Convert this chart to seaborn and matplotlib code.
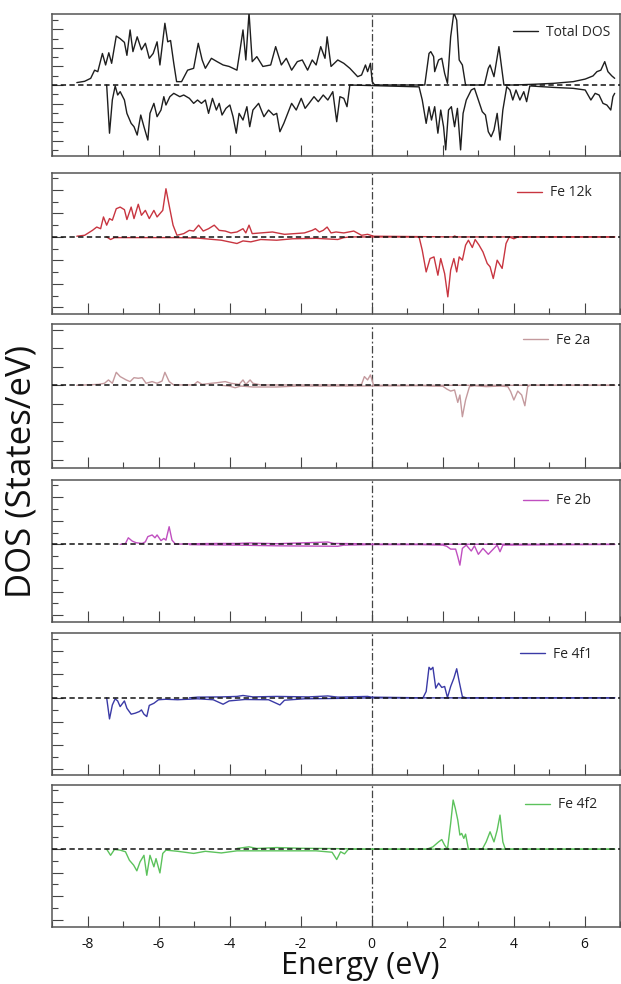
import numpy as np
import pandas as pd
import matplotlib
matplotlib.use("Agg")
import matplotlib.pyplot as plt
import seaborn as sns
from matplotlib.ticker import MultipleLocator, NullLocator

sns.set_style("ticks")
plt.rcParams['font.family'] = ['Open Sans', 'DejaVu Sans']

# ---------------- data ----------------
# Total DOS
tot_up_e = [-8.30, -8.08, -7.91, -7.80, -7.71, -7.58, -7.49, -7.40, -7.32, -7.19, -7.08, -6.96, -6.89, -6.80,
            -6.72, -6.60, -6.48, -6.37, -6.26, -6.15, -6.04, -5.96, -5.82, -5.74, -5.66, -5.57, -5.49, -5.35,
            -5.18, -5.01, -4.88, -4.77, -4.68, -4.51, -4.35, -4.18, -4.01, -3.90, -3.79, -3.71, -3.62, -3.54,
            -3.45, -3.36, -3.23, -3.06, -2.84, -2.70, -2.54, -2.40, -2.25, -2.09, -1.95, -1.80, -1.67, -1.56,
            -1.43, -1.31, -1.25, -1.14, -0.95, -0.78, -0.61, -0.39, -0.28, -0.17, -0.11, -0.03, 0.02, 0.09,
            1.50, 1.62, 1.67, 1.75, 1.78, 1.89, 1.98, 2.06, 2.14, 2.23, 2.32, 2.40, 2.47, 2.56, 2.65, 3.18,
            3.29, 3.34, 3.45, 3.59, 3.65, 3.73, 4.01, 4.57, 5.13, 5.68, 6.02, 6.24, 6.35, 6.46, 6.57, 6.66,
            6.77, 6.85]
tot_up_v = [0.13, 0.20, 0.36, 0.80, 0.72, 1.70, 1.08, 1.74, 1.17, 2.64, 2.50, 2.30, 1.60, 2.97,
            1.80, 2.60, 1.90, 2.25, 1.44, 1.70, 2.33, 1.08, 3.33, 2.33, 2.40, 1.17, 0.18, 0.18,
            0.80, 0.90, 2.25, 1.35, 0.90, 1.44, 1.26, 1.08, 1.00, 0.90, 0.80, 1.80, 2.97, 1.35,
            3.90, 1.26, 1.53, 1.00, 1.08, 2.07, 1.08, 1.44, 0.80, 1.26, 1.35, 0.80, 1.35, 1.08,
            2.07, 1.44, 2.60, 1.00, 1.35, 1.17, 0.90, 0.45, 0.54, 1.08, 0.72, 1.17, 0.18, 0.00,
            0.00, 1.70, 1.80, 1.53, 0.72, 1.35, 1.44, 0.63, 0.09, 2.60, 3.90, 3.50, 1.35, 1.08, 0.00, 0.00,
            0.90, 1.08, 0.45, 2.07, 1.17, 0.00, 0.00, 0.04, 0.09, 0.18, 0.32, 0.49, 0.72, 0.80, 1.26, 0.72,
            0.49, 0.36]
tot_dn_e = [-7.46, -7.38, -7.30, -7.22, -7.15, -7.08, -6.96, -6.89, -6.77, -6.69, -6.60, -6.50, -6.41, -6.30,
            -6.24, -6.13, -6.04, -5.93, -5.85, -5.79, -5.68, -5.57, -5.40, -5.29, -5.13, -5.01, -4.90, -4.79,
            -4.68, -4.59, -4.48, -4.37, -4.29, -4.21, -4.10, -3.99, -3.90, -3.81, -3.73, -3.62, -3.51, -3.43,
            -3.34, -3.18, -3.03, -2.90, -2.76, -2.67, -2.58, -2.47, -2.36, -2.25, -2.12, -1.98, -1.87, -1.76,
            -1.62, -1.50, -1.36, -1.23, -1.09, -0.98, -0.89, -0.78, -0.69, -0.61, 1.34, 1.43, 1.54, 1.62,
            1.69, 1.78, 1.87, 1.95, 2.03, 2.09, 2.17, 2.25, 2.34, 2.42, 2.51, 2.58, 2.67, 2.81, 2.90, 3.01,
            3.12, 3.21, 3.29, 3.37, 3.45, 3.54, 3.62, 3.70, 3.81, 3.90, 3.98, 4.07, 4.18, 4.29, 4.37, 4.46,
            5.13, 5.68, 6.02, 6.18, 6.30, 6.41, 6.52, 6.63, 6.74, 6.80, 6.85]
tot_dn_v = [0.00, -2.60, -0.80, -0.05, -0.54, -0.36, -0.81, -1.53, -2.07, -2.25, -2.70, -1.62, -2.25, -2.97,
            -1.53, -0.99, -1.71, -1.35, -0.63, -1.08, -0.63, -0.45, -0.63, -0.54, -0.72, -0.99, -0.81, -0.99,
            -0.81, -1.53, -0.72, -1.35, -0.99, -1.62, -1.26, -1.08, -1.71, -2.60, -1.53, -1.89, -1.17, -2.25,
            -1.35, -0.99, -1.71, -1.35, -1.62, -1.53, -2.52, -2.07, -1.53, -0.99, -1.35, -0.72, -1.26, -0.99,
            -0.63, -0.90, -0.54, -0.81, -0.36, -1.98, -0.63, -0.72, -1.17, 0.00, -0.10, -0.81, -2.07, -1.17,
            -1.89, -1.17, -2.60, -1.35, -2.25, -3.50, -1.35, -1.17, -2.25, -1.26, -3.50, -1.53, -0.81, -0.27, -0.18, -0.81,
            -1.44, -1.62, -2.52, -2.79, -2.43, -1.53, -2.97, -1.35, -0.09, -0.27, -0.81, -0.27, -0.81, -0.36, -0.90, -0.05,
            -0.13, -0.18, -0.27, -0.81, -0.45, -0.54, -0.99, -1.08, -1.35, -0.63, -0.45]

# Fe 12k
k12_up_e = [-8.30, -8.08, -7.86, -7.74, -7.63, -7.55, -7.46, -7.38, -7.30, -7.19, -7.08, -6.96, -6.89, -6.77,
            -6.69, -6.57, -6.48, -6.37, -6.26, -6.13, -6.04, -5.88, -5.79, -5.70, -5.59, -5.48, -5.29, -5.13,
            -5.01, -4.87, -4.74, -4.59, -4.43, -4.29, -4.12, -3.96, -3.79, -3.62, -3.54, -3.45, -3.36, -3.12,
            -2.79, -2.45, -2.17, -1.89, -1.67, -1.58, -1.47, -1.36, -1.25, -1.14, -1.00, -0.78, -0.50, -0.28,
            -0.11, 0.06, 2.30, 2.34, 2.40, 6.85]
k12_up_v = [0.03, 0.07, 0.28, 0.42, 0.35, 0.85, 0.50, 0.78, 0.71, 1.20, 1.27, 1.16, 0.74, 1.27,
            0.78, 1.39, 0.92, 1.13, 0.78, 1.13, 0.85, 1.13, 2.05, 1.34, 0.50, 0.07, 0.14, 0.28,
            0.25, 0.50, 0.25, 0.35, 0.50, 0.28, 0.25, 0.17, 0.21, 0.35, 0.17, 0.50, 0.14, 0.17,
            0.21, 0.11, 0.14, 0.17, 0.28, 0.35, 0.21, 0.28, 0.42, 0.17, 0.21, 0.17, 0.25, 0.07,
            0.11, 0.03, 0.00, 0.04, 0.00, 0.00]
k12_dn_e = [-7.46, -7.35, -7.24, -5.46, -4.90, -4.23, -3.79, -3.62, -3.40, -3.12, -2.67, -2.23, -1.56, -0.95,
            -0.78, -0.61, 1.34, 1.43, 1.54, 1.65, 1.76, 1.87, 1.95, 2.06, 2.15, 2.23, 2.32, 2.40, 2.47, 2.56,
            2.65, 2.73, 2.84, 2.92, 3.03, 3.14, 3.26, 3.34, 3.43, 3.54, 3.68, 3.79, 3.88, 4.01, 4.12, 6.85]
k12_dn_v = [0.00, -0.11, -0.03, -0.03, -0.05, -0.14, -0.28, -0.17, -0.21, -0.11, -0.14, -0.08, -0.06, -0.11,
            -0.03, 0.00, 0.00, -0.57, -1.49, -0.92, -0.85, -1.63, -0.92, -1.56, -2.55, -1.41, -0.92, -1.49, -0.85, -0.99,
            -0.35, -0.14, -0.45, -0.11, -0.35, -0.64, -1.13, -1.27, -1.77, -0.99, -1.34, -0.28, 0.00, -0.08, 0.00, 0.00]

# Fe 2a
a2_up_e = [-8.30, -7.69, -7.52, -7.41, -7.30, -7.19, -7.08, -6.91, -6.80, -6.69, -6.57, -6.46, -6.35, -6.18,
           -6.04, -5.90, -5.82, -5.70, -5.57, -5.01, -4.90, -4.77, -4.51, -4.35, -4.12, -3.96, -3.73, -3.62,
           -3.54, -3.42, -3.34, -3.12, -0.45, -0.28, -0.20, -0.11, -0.03, 0.06, 6.85]
a2_up_v = [0.00, 0.05, 0.11, 0.29, 0.11, 0.70, 0.47, 0.29, 0.20, 0.41, 0.38, 0.41, 0.11, 0.20,
           0.11, 0.23, 0.70, 0.20, 0.02, 0.02, 0.20, 0.05, 0.11, 0.14, 0.20, 0.11, 0.05, 0.29,
           0.05, 0.29, 0.11, 0.02, 0.02, 0.05, 0.47, 0.29, 0.56, 0.00, 0.00]
a2_dn_e = [-4.23, -4.01, -3.84, -3.68, -3.34, -2.67, -2.12, -0.67, 1.45, 1.67, 2.01, 2.12, 2.23, 2.34,
           2.43, 2.49, 2.56, 2.65, 2.76, 2.90, 3.23, 3.62, 3.84, 3.92, 4.01, 4.12, 4.23, 4.32, 4.40, 4.46, 6.85]
a2_dn_v = [0.00, -0.04, -0.13, -0.04, -0.09, -0.09, -0.04, -0.04, -0.02, -0.04, -0.05, -0.20, -0.31, -0.25,
           -0.92, -0.52, -1.69, -0.79, -0.07, -0.02, -0.07, -0.04, -0.07, -0.34, -0.79, -0.31, -0.52, -1.10, -0.07, 0.00, 0.00]

# Fe 2b
b2_up_e = [-7.08, -6.93, -6.85, -6.74, -6.63, -6.46, -6.37, -6.30, -6.18, -6.10, -6.04, -5.93, -5.85, -5.79,
           -5.70, -5.62, -5.52, -4.90, -4.35, -3.79, -3.45, -2.67, -1.23, -1.06, -0.45, 0.00, 6.85]
b2_up_v = [0.00, 0.04, 0.28, 0.14, 0.07, 0.04, 0.11, 0.33, 0.40, 0.28, 0.40, 0.16, 0.25, 0.18,
           0.75, 0.18, 0.01, 0.03, 0.04, 0.04, 0.06, 0.03, 0.10, 0.04, 0.03, 0.01, 0.00]
b2_dn_e = [-5.13, -3.79, -2.67, -0.95, -0.78, 0.00, 1.39, 2.01, 2.12, 2.23, 2.37, 2.43, 2.49, 2.56,
           2.67, 2.81, 2.90, 3.01, 3.14, 3.29, 3.43, 3.54, 3.62, 3.70, 6.85]
b2_dn_v = [-0.01, -0.03, -0.06, -0.08, -0.03, -0.01, -0.01, -0.03, -0.08, -0.20, -0.20, -0.52, -0.88, -0.17,
           -0.03, -0.28, -0.06, -0.42, -0.17, -0.42, -0.20, -0.03, -0.31, -0.03, 0.00]

# Fe 4f1
f1_up_e = [-5.13, -4.90, -4.23, -3.79, -3.62, -3.34, -2.67, -1.78, -1.23, -0.95, -0.11, 0.00, 1.45, 1.54,
           1.62, 1.67, 1.73, 1.81, 1.89, 1.98, 2.06, 2.14, 2.23, 2.32, 2.40, 2.47, 2.56, 2.67, 6.85]
f1_up_v = [0.00, 0.03, 0.04, 0.06, 0.10, 0.04, 0.06, 0.04, 0.08, 0.03, 0.06, 0.03, 0.00, 0.27,
           1.29, 1.19, 1.29, 0.41, 0.62, 0.44, 0.48, 0.01, 0.48, 0.83, 1.23, 0.69, 0.05, 0.00, 0.00]
f1_dn_e = [-7.46, -7.38, -7.30, -7.22, -7.15, -7.08, -6.96, -6.89, -6.77, -6.66, -6.54, -6.48, -6.41, -6.33,
           -6.26, -6.13, -6.00, -5.79, -5.46, -4.90, -4.46, -4.18, -4.01, -3.57, -2.90, -2.58, -2.45, -1.89,
           -1.23, 0.00, 6.85]
f1_dn_v = [0.00, -0.89, -0.30, -0.04, -0.13, -0.37, -0.13, -0.44, -0.69, -0.65, -0.58, -0.51, -0.69, -0.79,
           -0.32, -0.23, -0.08, -0.06, -0.08, -0.04, -0.08, -0.27, -0.13, -0.07, -0.08, -0.30, -0.10, -0.04,
           -0.03, 0.00, 0.00]

# Fe 4f2
f2_up_e = [-3.79, -3.45, -3.23, -2.67, -2.01, -1.34, 0.00, 1.56, 1.73, 1.89, 1.98, 2.06, 2.14, 2.23,
           2.30, 2.36, 2.43, 2.49, 2.54, 2.60, 2.65, 2.73, 3.12, 3.23, 3.34, 3.45, 3.54, 3.62, 3.70, 3.77, 6.85]
f2_up_v = [0.03, 0.10, 0.03, 0.07, 0.04, 0.03, 0.00, 0.00, 0.10, 0.31, 0.41, 0.17, 0.00, 1.10,
           2.09, 1.74, 1.24, 0.60, 0.67, 0.46, 0.64, 0.00, 0.00, 0.31, 0.74, 0.31, 0.81, 1.45, 0.31, 0.00, 0.00]
f2_dn_e = [-7.46, -7.35, -7.24, -7.08, -6.93, -6.82, -6.70, -6.61, -6.52, -6.41, -6.33, -6.24, -6.13, -6.07,
           -5.96, -5.88, -5.79, -5.46, -5.01, -4.68, -4.23, -3.79, -2.67, -1.56, -1.11, -0.98, -0.87, -0.76,
           -0.65, 6.85]
f2_dn_v = [0.00, -0.26, -0.01, -0.04, -0.11, -0.47, -0.68, -0.92, -0.54, -0.26, -1.11, -0.26, -0.75, -0.40,
           -1.01, -0.18, -0.04, -0.09, -0.18, -0.09, -0.16, -0.07, -0.07, -0.07, -0.13, -0.44, -0.11, -0.20,
           0.00, 0.00]

labels = ["Total DOS", "Fe 12k", "Fe 2a", "Fe 2b", "Fe 4f1", "Fe 4f2"]
colors = ["#1e1e1e", "#c83540", "#c49a9e", "#c04fc0", "#3a3aa6", "#5cc25c"]
series = [(tot_up_e, tot_up_v, tot_dn_e, tot_dn_v),
          (k12_up_e, k12_up_v, k12_dn_e, k12_dn_v),
          (a2_up_e, a2_up_v, a2_dn_e, a2_dn_v),
          (b2_up_e, b2_up_v, b2_dn_e, b2_dn_v),
          (f1_up_e, f1_up_v, f1_dn_e, f1_dn_v),
          (f2_up_e, f2_up_v, f2_dn_e, f2_dn_v)]
energy_ticks = [-8, -6, -4, -2, 0, 2, 4, 6]

# ---------------- layout ----------------
W, H = 621, 984
fig = plt.figure(figsize=(W / 100, H / 100), dpi=100)
left_px, right_px = 52, 620
panels_px = [(14, 156), (173, 314), (324, 468), (480, 622), (633, 775), (785, 927)]
ylims = [(-3.83, 3.83), (-3.28, 2.72), (-4.45, 3.30), (-3.29, 2.73), (-3.26, 2.74), (-3.31, 2.73)]
minor_y = [0.5, 0.5, None, 0.5, 0.5, 0.5]
legend_px = [(513, 32), (517, 193), (523, 340), (523, 501), (520, 654), (525, 805)]

spine_col = "#555555"
for i in range(6):
    top, bot = panels_px[i]
    ax = fig.add_axes([left_px / W, 1 - bot / H, (right_px - left_px) / W, (bot - top) / H])
    ue, uv, de, dv = series[i]
    sns.lineplot(x=np.array(de), y=np.array(dv), ax=ax, color=colors[i], lw=1.0,
                 sort=False, estimator=None, zorder=3)
    sns.lineplot(x=np.array(ue), y=np.array(uv), ax=ax, color=colors[i], lw=1.0,
                 sort=False, estimator=None, zorder=3, label=labels[i])
    ax.axhline(0, color="#111111", lw=1.1, ls=(0, (3.5, 2.2)), zorder=4)
    ax.axvline(0, color="#444444", lw=0.9, ls=(0, (6, 2, 1.5, 2)), zorder=2)
    ax.set_xlim(-9, 7)
    ax.set_ylim(*ylims[i])
    ax.xaxis.set_major_locator(MultipleLocator(2))
    ax.xaxis.set_minor_locator(MultipleLocator(1))
    ax.yaxis.set_major_locator(MultipleLocator(1))
    if minor_y[i]:
        ax.yaxis.set_minor_locator(MultipleLocator(minor_y[i]))
    else:
        ax.yaxis.set_minor_locator(NullLocator())
    ax.tick_params(which="major", direction="in", length=8, width=0.8, color="#444444",
                   left=True, bottom=True, right=False, top=False)
    ax.tick_params(which="minor", direction="in", length=4, width=0.8, color="#444444",
                   left=True, bottom=True, right=False, top=False)
    ax.set_yticklabels([])
    ax.set_xlabel("")
    ax.set_ylabel("")
    if i < 5:
        ax.set_xticklabels([])
    else:
        ax.set_xticks(energy_ticks)
        ax.set_xticklabels([str(t) for t in energy_ticks], fontsize=10, color="#111111")
        ax.tick_params(axis="x", which="major", pad=7)
    for s in ax.spines.values():
        s.set_color(spine_col)
        s.set_linewidth(1.1)
    lx, ly = legend_px[i]
    ax.legend(loc="center left",
              bbox_to_anchor=((lx - left_px) / (right_px - left_px), 1 - (ly - top) / (bot - top)),
              frameon=False, fontsize=10, borderpad=0, borderaxespad=0,
              handlelength=1.8, handletextpad=0.6)

fig.text(360 / W, 1 - 966 / H, "Energy (eV)", ha="center", va="center", fontsize=22, color="#111111")
fig.text(22 / W, 1 - 472 / H, "DOS (States/eV)", ha="center", va="center", rotation=90,
         fontsize=25, color="#111111")

fig.savefig("out.png", dpi=100)
